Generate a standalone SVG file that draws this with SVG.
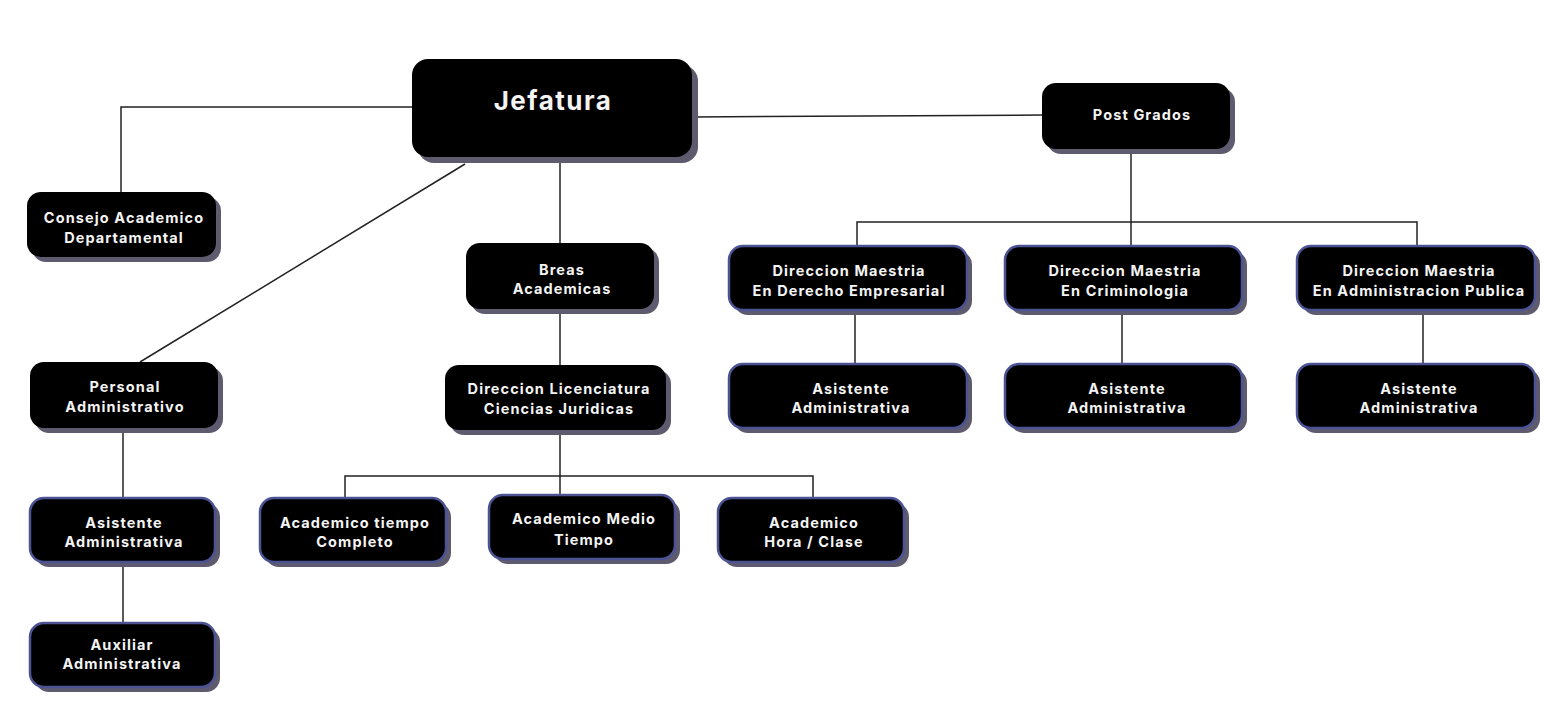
<svg xmlns="http://www.w3.org/2000/svg" width="1566" height="703" viewBox="0 0 1566 703">
<style>
.sh{fill:#5d5b6d}
.bx{fill:#000}
.bd{stroke:#4b5394;stroke-width:2.5}
.t{font-family:Inter,"Liberation Sans",Arial,sans-serif;font-weight:700;font-size:14.5px;letter-spacing:1.1px;fill:#f4f4f4;text-anchor:middle}
.big{font-size:26px;letter-spacing:1.5px}
.c{fill:none;stroke:#222;stroke-width:1.5}
</style>
<rect width="1566" height="703" fill="#fff"/>
<g id="connectors">
<polyline class="c" points="412,107 121,107 121,192"/>
<line class="c" x1="692" y1="117" x2="1042" y2="115"/>
<line class="c" x1="465" y1="164" x2="140" y2="362"/>
<line class="c" x1="560" y1="157" x2="560" y2="243"/>
<line class="c" x1="560" y1="309" x2="560" y2="365"/>
<line class="c" x1="560" y1="430" x2="560" y2="495"/>
<polyline class="c" points="345,498 345,476 813,476 813,498"/>
<line class="c" x1="123" y1="428" x2="123" y2="498"/>
<line class="c" x1="123" y1="562" x2="123" y2="623"/>
<line class="c" x1="1131" y1="149" x2="1131" y2="246"/>
<polyline class="c" points="857,246 857,222 1417,222 1417,246"/>
<line class="c" x1="855" y1="310" x2="855" y2="364"/>
<line class="c" x1="1122" y1="310" x2="1122" y2="364"/>
<line class="c" x1="1423" y1="310" x2="1423" y2="364"/>
</g>
<g id="jefatura">
<rect class="sh" x="418" y="65" width="280" height="98" rx="16"/>
<rect class="bx" x="412" y="59" width="280" height="98" rx="16"/>
<text class="t big" x="553" y="110">Jefatura</text>
</g>
<g id="postgrados">
<rect class="sh" x="1047" y="88" width="188" height="66" rx="14"/>
<rect class="bx" x="1042" y="83" width="188" height="66" rx="14"/>
<text class="t" x="1142" y="120">Post Grados</text>
</g>
<g id="consejo">
<rect class="sh" x="32" y="197" width="189" height="65" rx="14"/>
<rect class="bx" x="27" y="192" width="189" height="65" rx="14"/>
<text class="t" x="124" y="223">Consejo Academico</text>
<text class="t" x="124" y="243">Departamental</text>
</g>
<g id="breas">
<rect class="sh" x="471" y="248" width="188" height="66" rx="14"/>
<rect class="bx" x="466" y="243" width="188" height="66" rx="14"/>
<text class="t" x="562" y="275">Breas</text>
<text class="t" x="562" y="294">Academicas</text>
</g>
<g id="personal">
<rect class="sh" x="35" y="367" width="188" height="66" rx="14"/>
<rect class="bx" x="30" y="362" width="188" height="66" rx="14"/>
<text class="t" x="125" y="392">Personal</text>
<text class="t" x="125" y="412">Administrativo</text>
</g>
<g id="dirlic">
<rect class="sh" x="450" y="370" width="221" height="65" rx="14"/>
<rect class="bx" x="445" y="365" width="221" height="65" rx="14"/>
<text class="t" x="559" y="394">Direccion Licenciatura</text>
<text class="t" x="559" y="414">Ciencias Juridicas</text>
</g>
<g id="dm-derecho">
<rect class="sh" x="734" y="251" width="238" height="64" rx="14"/>
<rect class="bx bd" x="729" y="246" width="238" height="64" rx="14"/>
<text class="t" x="849" y="276">Direccion Maestria</text>
<text class="t" x="849" y="296">En Derecho Empresarial</text>
</g>
<g id="dm-crim">
<rect class="sh" x="1010" y="251" width="237" height="64" rx="14"/>
<rect class="bx bd" x="1005" y="246" width="237" height="64" rx="14"/>
<text class="t" x="1125" y="276">Direccion Maestria</text>
<text class="t" x="1125" y="296">En Criminologia</text>
</g>
<g id="dm-admin">
<rect class="sh" x="1302" y="251" width="238" height="64" rx="14"/>
<rect class="bx bd" x="1297" y="246" width="238" height="64" rx="14"/>
<text class="t" x="1419" y="276">Direccion Maestria</text>
<text class="t" x="1419" y="296">En Administracion Publica</text>
</g>
<g id="asist-derecho">
<rect class="sh" x="734" y="369" width="238" height="64" rx="14"/>
<rect class="bx bd" x="729" y="364" width="238" height="64" rx="14"/>
<text class="t" x="851" y="394">Asistente</text>
<text class="t" x="851" y="413">Administrativa</text>
</g>
<g id="asist-crim">
<rect class="sh" x="1010" y="369" width="237" height="64" rx="14"/>
<rect class="bx bd" x="1005" y="364" width="237" height="64" rx="14"/>
<text class="t" x="1127" y="394">Asistente</text>
<text class="t" x="1127" y="413">Administrativa</text>
</g>
<g id="asist-admin">
<rect class="sh" x="1302" y="369" width="238" height="64" rx="14"/>
<rect class="bx bd" x="1297" y="364" width="238" height="64" rx="14"/>
<text class="t" x="1419" y="394">Asistente</text>
<text class="t" x="1419" y="413">Administrativa</text>
</g>
<g id="asist-left">
<rect class="sh" x="35" y="503" width="185" height="64" rx="14"/>
<rect class="bx bd" x="30" y="498" width="185" height="64" rx="14"/>
<text class="t" x="124" y="528">Asistente</text>
<text class="t" x="124" y="547">Administrativa</text>
</g>
<g id="auxiliar">
<rect class="sh" x="35" y="628" width="185" height="64" rx="14"/>
<rect class="bx bd" x="30" y="623" width="185" height="64" rx="14"/>
<text class="t" x="122" y="650">Auxiliar</text>
<text class="t" x="122" y="669">Administrativa</text>
</g>
<g id="acad-tc">
<rect class="sh" x="265" y="503" width="186" height="64" rx="14"/>
<rect class="bx bd" x="260" y="498" width="186" height="64" rx="14"/>
<text class="t" x="355" y="528">Academico tiempo</text>
<text class="t" x="355" y="547">Completo</text>
</g>
<g id="acad-mt">
<rect class="sh" x="494" y="500" width="186" height="64" rx="14"/>
<rect class="bx bd" x="489" y="495" width="186" height="64" rx="14"/>
<text class="t" x="584" y="524">Academico Medio</text>
<text class="t" x="584" y="545">Tiempo</text>
</g>
<g id="acad-hc">
<rect class="sh" x="723" y="503" width="186" height="64" rx="14"/>
<rect class="bx bd" x="718" y="498" width="186" height="64" rx="14"/>
<text class="t" x="814" y="528">Academico</text>
<text class="t" x="814" y="547">Hora / Clase</text>
</g>
</svg>
